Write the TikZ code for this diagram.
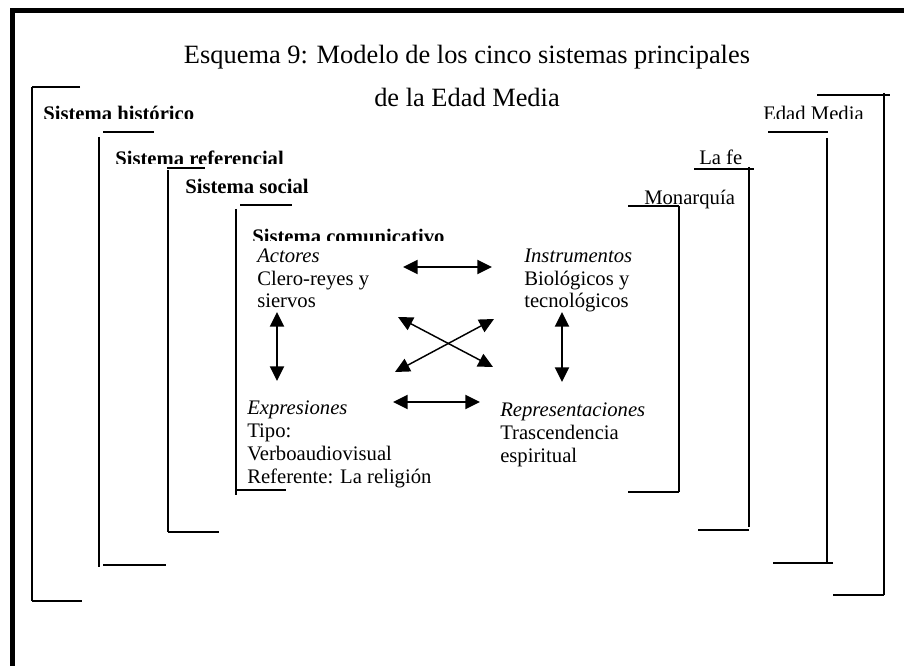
\documentclass[tikz,border=0pt]{standalone}
\usepackage{fontspec}
\setmainfont{Liberation Serif}
\usetikzlibrary{arrows.meta}

\begin{document}
\begin{tikzpicture}[x=0.75pt,y=0.75pt,yscale=-1,xscale=1,
  txt/.style={font=\fontsize{15.5}{18}\selectfont, inner sep=0pt, anchor=base west},
  itxt/.style={txt, font=\fontsize{15.5}{18}\selectfont\itshape},
  btxt/.style={txt, font=\fontsize{15.5}{18}\selectfont\bfseries},
  ttl/.style={font=\fontsize{19.8}{24}\selectfont, inner sep=0pt, anchor=base},
  brk/.style={line width=1.5pt},
  dbl/.style={line width=1.5pt, {Triangle[length=11pt,width=10.5pt]}-{Triangle[length=11pt,width=10.5pt]}}]
\path [use as bounding box] (0,0) rectangle (904,666);

%Frame
\draw [line width=3.4pt] (12.5,666) -- (12.5,10.5) -- (904,10.5) ;

% Title
\node (ttlA) at (467,64) [ttl] {Esquema 9: Modelo de los cinco sistemas principales};
\node (ttlB) at (467,107) [ttl] {de la Edad Media};

% Text Node (cut off at the bottom)
\begin{scope}
\clip (35,95) rectangle (220,118.5);
\node (histo) at (43,120.5) [btxt] {Sistema histórico};
\end{scope}
\begin{scope}
\clip (105,140) rectangle (300,163.5);
\node (refer) at (115,165.5) [btxt] {Sistema referencial};
\end{scope}
\begin{scope}
\clip (240,218) rectangle (460,241);
\node (comun) at (252,243.5) [btxt] {Sistema comunicativo};
\end{scope}
\begin{scope}
\clip (750,95) rectangle (880,118.5);
\node (edad) at (763,120.5) [txt] {Edad Media};
\end{scope}

% Text Node
\node (social) at (185,194) [btxt] {Sistema social};
\node (lafe) at (699,165) [txt] {La fe};
\node (monar) at (644,205) [txt] {Monarquía};

% Text Node
\node (actA) at (257,263) [itxt] {Actores};
\node (actB) at (257,286) [txt] {Clero-reyes y};
\node (actC) at (257,308) [txt] {siervos};
\node (insA) at (524,263) [itxt] {Instrumentos};
\node (insB) at (524,286) [txt] {Biológicos y};
\node (insC) at (524,308) [txt] {tecnológicos};
\node (expA) at (247,415) [itxt] {Expresiones};
\node (expB) at (247,438) [txt] {Tipo:};
\node (expC) at (247,461) [txt] {Verboaudiovisual};
\node (expD) at (247,484) [txt] {Referente: La religión};
\node (repA) at (500,417) [itxt] {Representaciones};
\node (repB) at (500,440) [txt] {Trascendencia};
\node (repC) at (500,463) [txt] {espiritual};

%Straight Lines (left brackets)
\draw [brk] (80,87) -- (31.5,87) ;
\draw [brk] (31.5,87) -- (31.5,601.5) ;
\draw [brk] (31.5,601.5) -- (82,601.5) ;
\draw [brk] (103,131.7) -- (154,131.7) ;
\draw [brk] (99,137) -- (99,567.5) ;
\draw [brk] (103,565) -- (166,565) ;
\draw [brk] (167,168.5) -- (205,168.5) ;
\draw [brk] (168,170) -- (168,532) ;
\draw [brk] (168,531.7) -- (219,531.7) ;
\draw [brk] (240,205) -- (292,205) ;
\draw [brk] (236,209) -- (236,495) ;
\draw [brk] (236,490) -- (286,490) ;

%Straight Lines (right brackets)
\draw [brk] (817,95) -- (890,95) ;
\draw [brk] (884,93) -- (884,595) ;
\draw [brk] (884,595) -- (833,595) ;
\draw [brk] (768,131.7) -- (828,131.7) ;
\draw [brk] (827,138) -- (827,563) ;
\draw [brk] (833,563) -- (773,563) ;
\draw [brk] (694,169) -- (754,169) ;
\draw [brk] (749,167) -- (749,527) ;
\draw [brk] (749,530) -- (698,530) ;
\draw [brk] (628,206) -- (679,206) ;
\draw [brk] (679,206) -- (679,491.7) ;
\draw [brk] (679,491.7) -- (628,491.7) ;

% Arrow ends
\coordinate (topL) at (403,267);
\coordinate (topR) at (492,267);
\coordinate (botL) at (393,402);
\coordinate (botR) at (480,402);
\coordinate (lftU) at (277,312);
\coordinate (lftD) at (277,381);
\coordinate (rgtU) at (562,312);
\coordinate (rgtD) at (562,382);
\coordinate (crsA) at (398,317);
\coordinate (crsB) at (493,367);
\coordinate (crsC) at (395,372);
\coordinate (crsD) at (494,319);

%Arrows
\draw [dbl] (topL) -- (topR) ;
\draw [dbl] (botL) -- (botR) ;
\draw [dbl] (lftU) -- (lftD) ;
\draw [dbl] (rgtU) -- (rgtD) ;
\draw [dbl, line width=1.1pt] (crsA) -- (crsB) ;
\draw [dbl, line width=1.1pt] (crsC) -- (crsD) ;
\end{tikzpicture}
\end{document}
